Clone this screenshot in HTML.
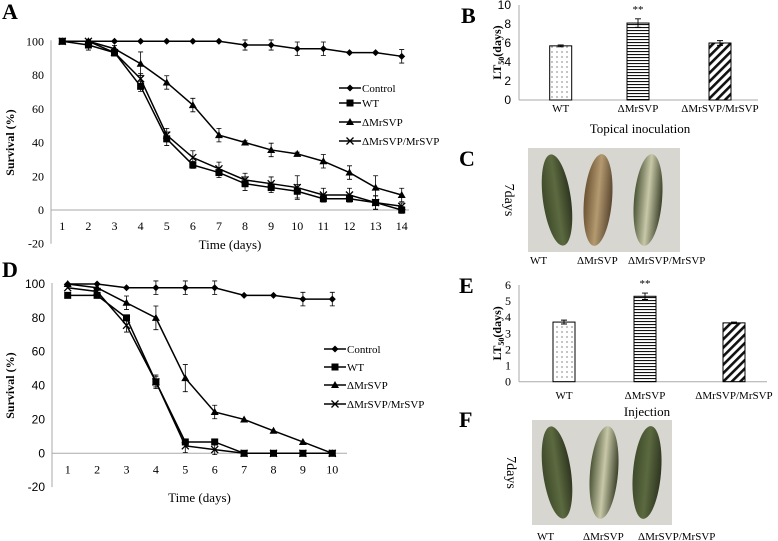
<!DOCTYPE html>
<html><head><meta charset="utf-8"><style>
body{margin:0;background:#fff;width:778px;height:541px;overflow:hidden}
svg{display:block;font-family:"Liberation Serif",serif}
</style></head><body>
<svg id="fig" width="778" height="541">
<defs>
<pattern id="dots" width="5" height="5" patternUnits="userSpaceOnUse"><circle cx="2" cy="2" r="0.6" fill="#333"/></pattern>
<pattern id="hstripe" width="4" height="3" patternUnits="userSpaceOnUse"><rect width="4" height="1.1" fill="#111"/></pattern>
<pattern id="diag" width="6" height="6" patternUnits="userSpaceOnUse" patternTransform="rotate(45)"><rect width="2.6" height="6" fill="#111"/></pattern>
<linearGradient id="larvaG" x1="0" x2="1"><stop offset="0" stop-color="#3e4a2a"/><stop offset="0.5" stop-color="#5c6a40"/><stop offset="1" stop-color="#2e3520"/></linearGradient>
<linearGradient id="larvaT" x1="0" x2="1"><stop offset="0" stop-color="#6b5232"/><stop offset="0.5" stop-color="#b49a70"/><stop offset="1" stop-color="#5a4630"/></linearGradient>
<linearGradient id="larvaW" x1="0" x2="1"><stop offset="0" stop-color="#4a5436"/><stop offset="0.5" stop-color="#c8c8a8"/><stop offset="1" stop-color="#3a4028"/></linearGradient>
</defs>
<g id="root"></g>
</svg>
<script>
// Panel A data (topical)
const daysA = [1,2,3,4,5,6,7,8,9,10,11,12,13,14];
const ctrlA = [100,100,100,100,100,100,100,97.8,97.8,95.6,95.6,93.3,93.3,91.1];
const ctrlAerr = [0,0,0,0,0,0,0,3,3,4,4,0,0,4];
const wtA = [100,97.8,93.3,73.3,42.2,26.7,22.2,15.6,13.3,11.1,6.7,6.7,4.4,0];
const wtAerr = [0,3,2,3,4,2,3,4,3,4,2,2,4,2];
const mutA = [100,100,95.6,86.7,75.6,62.2,44.4,40,35.6,33.3,28.9,22.2,13.3,8.9];
const mutAerr = [0,0,2,7,4,4,4,1,4,1,4,4,7,4];
const compA = [100,100,93.3,77.8,44.4,31.1,24.4,17.8,15.6,13.3,8.9,8.9,4.4,2.2];
const compAerr = [0,0,2,3,4,4,4,4,4,7,4,4,4,2];
// Panel D data (injection)
const daysD = [1,2,3,4,5,6,7,8,9,10];
const ctrlD = [100,100,97.8,97.8,97.8,97.8,93.3,93.3,91.1,91.1];
const ctrlDerr = [0,0,0,4,4,4,0,0,4,4];
const wtD = [93.3,93.3,80,42.2,6.7,6.7,0,0,0,0];
const wtDerr = [0,0,0,4,0,0,0,0,0,0];
const mutD = [100,97.8,88.9,80,44.4,24.4,20,13.3,6.7,0];
const mutDerr = [0,0,4,7,8,4,0,0,0,0];
const compD = [97.8,95.6,75.6,42.2,4.4,2.2,0,0,0,0];
const compDerr = [0,0,4,3,4,3,0,0,0,0];
const yTicks = [-20,0,20,40,60,80,100];
// Bar panels
const barCats = ["WT","\u0394MrSVP","\u0394MrSVP/MrSVP"];
const ltB = [5.7,8.1,6.0];
const ltBerr = [0.1,0.45,0.25];
const ltE = [3.7,5.3,3.65];
const ltEerr = [0.12,0.2,0.05];
const bTicks = [0,2,4,6,8,10];
const eTicks = [0,1,2,3,4,5,6];

const NS="http://www.w3.org/2000/svg";
const root=document.getElementById('root');
function mk(tag,attrs,parent,name,inter){const e=document.createElementNS(NS,tag);for(const k in attrs)e.setAttribute(k,attrs[k]);


(parent||root).appendChild(e);return e;}
function txt(x,y,s,opts,name,parent){const t=mk('text',Object.assign({x:x,y:y,'font-size':12,fill:'#000'},opts||{}),parent,name,false);t.textContent=s;return t;}

function marker(g,type,x,y){
 if(type==='diamond')mk('path',{d:`M${x} ${y-3.5}L${x+3.5} ${y}L${x} ${y+3.5}L${x-3.5} ${y}Z`,fill:'#000'},g,'marker-diamond');
 else if(type==='square')mk('rect',{x:x-3.5,y:y-3.5,width:7,height:7,fill:'#000'},g,'marker-square');
 else if(type==='tri')mk('path',{d:`M${x} ${y-4}L${x+4} ${y+3}L${x-4} ${y+3}Z`,fill:'#000'},g,'marker-triangle');
 else mk('path',{d:`M${x-3.5} ${y-3.5}L${x+3.5} ${y+3.5}M${x+3.5} ${y-3.5}L${x-3.5} ${y+3.5}`,stroke:'#000','stroke-width':1.3},g,'marker-cross');
}

function lineChart(cfg){
 const g=mk('g',{},root,cfg.name,false);
 const X=d=>cfg.x1+(d-cfg.days[0])*(cfg.x2-cfg.x1)/(cfg.days[cfg.days.length-1]-cfg.days[0]);
 const Y=v=>cfg.y0+(v)*(cfg.y100-cfg.y0)/100;
 mk('line',{x1:cfg.ax,y1:Y(100)-1,x2:cfg.ax,y2:Y(-20),stroke:'#aaa'},g,'y-axis');
 mk('line',{x1:cfg.ax,y1:Y(0),x2:cfg.axEnd,y2:Y(0),stroke:'#aaa'},g,'x-axis');
 yTicks.forEach(t=>{txt(cfg.ax-7,Y(t)+4,String(t),{'text-anchor':'end','font-size':12,'font-family':cfg.tickFont},'y-tick-label',g);});
 cfg.days.forEach(d=>txt(X(d),Y(0)+20,String(d),{'text-anchor':'middle','font-size':12},'x-tick-label',g));
 txt((cfg.ax+cfg.axEnd)/2,cfg.xtY,'Time (days)',{'text-anchor':'middle','font-size':13},'x-axis-title',g);
 txt(0,0,'Survival (%)',{'text-anchor':'middle','font-size':12,'font-weight':'bold',transform:`translate(${cfg.ytX},${Y(40)}) rotate(-90)`},'y-axis-title',g);
 cfg.series.forEach(s=>{
  const sg=mk('g',{},g,'series-'+s.key,false);
  const pts=cfg.days.map((d,i)=>X(d)+','+Y(s.v[i])).join(' ');
  mk('polyline',{points:pts,fill:'none',stroke:'#000','stroke-width':1.5},sg,'line-'+s.key);
  cfg.days.forEach((d,i)=>{
   const e=s.e[i];
   if(e>0){const x=X(d);mk('path',{d:`M${x} ${Y(s.v[i]+e)}V${Y(s.v[i]-e)}M${x-2.5} ${Y(s.v[i]+e)}H${x+2.5}M${x-2.5} ${Y(s.v[i]-e)}H${x+2.5}`,stroke:'#000','stroke-width':0.8,fill:'none'},sg,'error-bar');}
   marker(sg,s.m,X(d),Y(s.v[i]));
  });
 });
 cfg.series.forEach((s,i)=>{
  const ly=cfg.legY[i];
  mk('line',{x1:cfg.legX,y1:ly,x2:cfg.legX+22,y2:ly,stroke:'#000','stroke-width':1.5},g,'legend-line');
  marker(g,s.m,cfg.legX+11,ly);
  txt(cfg.legX+23,ly+4,s.label,{'font-size':11},'legend-entry',g);
 });
}
const labels=["Control","WT","\u0394MrSVP","\u0394MrSVP/MrSVP"];
lineChart({name:'panel-a-chart',days:daysA,x1:62.3,x2:401.7,y0:210,y100:41.3,ax:51,axEnd:409,xtY:249,ytX:14,tickFont:'"Liberation Serif",serif',legX:339,legY:[88,103,122,141],
 series:[{key:'control',v:ctrlA,e:ctrlAerr,m:'diamond',label:labels[0]},{key:'wt',v:wtA,e:wtAerr,m:'square',label:labels[1]},{key:'mrsvp',v:mutA,e:mutAerr,m:'tri',label:labels[2]},{key:'comp',v:compA,e:compAerr,m:'cross',label:labels[3]}]});
lineChart({name:'panel-d-chart',days:daysD,x1:67.7,x2:332.3,y0:453.3,y100:284,ax:52,axEnd:347,xtY:502,ytX:14,tickFont:'"Liberation Sans",sans-serif',legX:324,legY:[349,367,385,404],
 series:[{key:'control',v:ctrlD,e:ctrlDerr,m:'diamond',label:labels[0]},{key:'wt',v:wtD,e:wtDerr,m:'square',label:labels[1]},{key:'mrsvp',v:mutD,e:mutDerr,m:'tri',label:labels[2]},{key:'comp',v:compD,e:compDerr,m:'cross',label:labels[3]}]});

function barChart(cfg){
 const g=mk('g',{},root,cfg.name,false);
 const Y=v=>cfg.y0-v*(cfg.y0-cfg.yTop)/cfg.ticks[cfg.ticks.length-1];
 mk('line',{x1:cfg.ax,y1:Y(cfg.ticks[cfg.ticks.length-1]),x2:cfg.ax,y2:cfg.y0,stroke:'#aaa'},g,'y-axis');
 mk('line',{x1:cfg.ax,y1:cfg.y0,x2:cfg.axEnd,y2:cfg.y0,stroke:'#aaa'},g,'x-axis');
 cfg.ticks.forEach(t=>txt(cfg.ax-8,Y(t)+4,String(t),{'text-anchor':'end','font-size':cfg.tickSize,'font-family':cfg.tickFont},'y-tick-label',g));
 const fills=['url(#dots)','url(#hstripe)','url(#diag)'];
 barCats.forEach((c,i)=>{
  const cx=cfg.cx[i],v=cfg.vals[i],e=cfg.errs[i];
  mk('rect',{x:cx-11,y:Y(v),width:22,height:cfg.y0-Y(v),fill:fills[i],stroke:'#000','stroke-width':1},g,'bar-'+i);
  mk('path',{d:`M${cx} ${Y(v+e)}V${Y(v-e)}M${cx-3} ${Y(v+e)}H${cx+3}M${cx-3} ${Y(v-e)}H${cx+3}`,stroke:'#000','stroke-width':0.9,fill:'none'},g,'error-bar');
  txt(cx,cfg.catY,c,{'text-anchor':'middle','font-size':11},'x-tick-label',g);
 });
 txt(cfg.cx[1],Y(cfg.vals[1]+cfg.errs[1])-6,'**',{'text-anchor':'middle','font-size':11},'significance-mark',g);
 txt(cfg.cx[1]+2,cfg.titleY,cfg.title,{'text-anchor':'middle','font-size':13},'x-axis-title',g);
 const yl=mk('text',{x:0,y:0,'font-size':12,'font-weight':'bold','text-anchor':'middle',transform:`translate(${cfg.ytX},${(cfg.y0+cfg.yTop)/2}) rotate(-90)`},g,'y-axis-title',false);
 yl.innerHTML='LT<tspan font-size="8" dy="3">50</tspan><tspan dy="-3">(days)</tspan>';
}
barChart({name:'panel-b-chart',ax:519,axEnd:758,y0:100,yTop:5,ticks:bTicks,cx:[560.7,638,720],vals:ltB,errs:ltBerr,catY:112,title:'Topical inoculation',titleY:133,ytX:501,tickFont:'"Liberation Sans",sans-serif',tickSize:12});
barChart({name:'panel-e-chart',ax:519,axEnd:767,y0:381.7,yTop:285,ticks:eTicks,cx:[564,645,734],vals:ltE,errs:ltEerr,catY:399,title:'Injection',titleY:416,ytX:501,tickFont:'"Liberation Serif",serif',tickSize:12});

// panel letters
[['A',2,19],['B',461,23],['C',459,166],['D',2,277],['E',459,293],['F',459,427]].forEach(p=>txt(p[1],p[2],p[0],{'font-size':22,'font-weight':'bold'},'panel-label-'+p[0].toLowerCase()));

// photos
function photo(name,x,y,w,h,cxs,fills,labY,labXs,daysX){
 const g=mk('g',{},root,name,false);
 mk('rect',{x:x,y:y,width:w,height:h,fill:'#d8d6d0'},g,'photo-background');
 cxs.forEach((cx,i)=>mk('ellipse',{cx:cx,cy:y+h/2,rx:14,ry:h/2-6,fill:fills[i],transform:`rotate(${i===0?-8:5} ${cx} ${y+h/2})`},g,'larva-'+i));
 txt(0,0,'7days',{'font-size':14,'text-anchor':'middle',transform:`translate(${daysX},${y+h/2}) rotate(90)`},'days-label',g);
 barCats.forEach((c,i)=>txt(labXs[i],labY,c,{'font-size':11},'photo-label',g));
}
photo('panel-c-photo',528,148,152,104,[557,598,648],['url(#larvaG)','url(#larvaT)','url(#larvaW)'],264,[530,577,628],505);
photo('panel-f-photo',532,420,140,105,[557,604,647],['url(#larvaG)','url(#larvaW)','url(#larvaG)'],540,[537,583,638],507);
</script>
</body></html>
